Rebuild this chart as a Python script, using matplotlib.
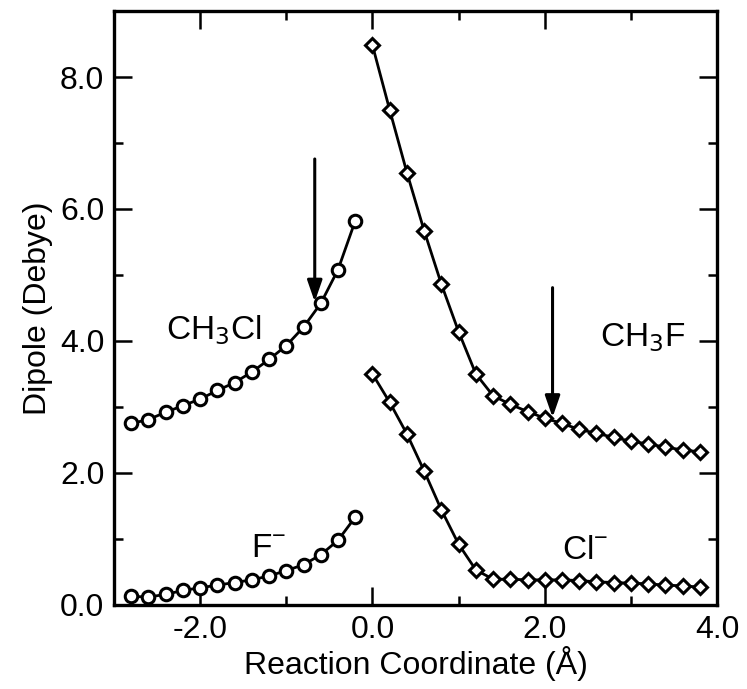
import matplotlib.pyplot as plt
from matplotlib.ticker import MultipleLocator, FormatStrFormatter

plt.rcParams['font.family'] = ['Liberation Sans', 'DejaVu Sans']

# reaction coordinate grids (Angstrom)
x_left = [-2.8, -2.6, -2.4, -2.2, -2.0, -1.8, -1.6, -1.4, -1.2, -1.0, -0.8, -0.6, -0.4, -0.2]
x_right = [0.0, 0.2, 0.4, 0.6, 0.8, 1.0, 1.2, 1.4, 1.6, 1.8, 2.0, 2.2, 2.4, 2.6, 2.8, 3.0, 3.2, 3.4, 3.6, 3.8]

# dipole moments (Debye)
ch3cl = [2.75, 2.81, 2.92, 3.02, 3.12, 3.25, 3.37, 3.53, 3.72, 3.93, 4.21, 4.57, 5.08, 5.82]
f_ion = [0.13, 0.12, 0.16, 0.22, 0.26, 0.30, 0.34, 0.38, 0.44, 0.52, 0.61, 0.76, 0.98, 1.33]
ch3f = [8.48, 7.50, 6.55, 5.67, 4.86, 4.14, 3.50, 3.17, 3.04, 2.93, 2.83, 2.75, 2.66, 2.60,
        2.54, 2.48, 2.44, 2.39, 2.35, 2.32]
cl_ion = [3.50, 3.07, 2.59, 2.03, 1.44, 0.92, 0.53, 0.39, 0.39, 0.38, 0.38, 0.38, 0.37, 0.35,
          0.34, 0.33, 0.32, 0.30, 0.29, 0.27]

fig = plt.figure(figsize=(7.47, 6.89), dpi=100)
ax = fig.add_axes([0.1526, 0.122, 0.8074, 0.862])

circ = dict(color='black', lw=2.0, marker='o', ms=9, mfc='white', mec='black', mew=2.2)
diam = dict(color='black', lw=2.0, marker='D', ms=7.5, mfc='white', mec='black', mew=2.2)
ax.plot(x_left, ch3cl, **circ)
ax.plot(x_left, f_ion, **circ)
ax.plot(x_right, ch3f, **diam)
ax.plot(x_right, cl_ion, **diam)

# arrows marking the transition points
arrow = dict(arrowstyle='-|>,head_length=1.3,head_width=0.45', color='black', lw=2.2)
ax.annotate('', xy=(-0.67, 4.55), xytext=(-0.67, 6.8), arrowprops=arrow)
ax.annotate('', xy=(2.09, 2.80), xytext=(2.09, 4.85), arrowprops=arrow)

fs = 24
ax.text(-2.40, 4.17, r'CH$_3$Cl', fontsize=fs, va='center', ha='left')
ax.text(2.64, 4.05, r'CH$_3$F', fontsize=fs, va='center', ha='left')
ax.text(-1.41, 0.86, r'F$^{\mathregular{-}}$', fontsize=fs, va='center', ha='left')
ax.text(2.20, 0.83, r'Cl$^{\mathregular{-}}$', fontsize=fs, va='center', ha='left')

ax.set_xlim(-3.0, 4.0)
ax.set_ylim(0.0, 9.0)
ax.xaxis.set_major_locator(MultipleLocator(2.0))
ax.xaxis.set_minor_locator(MultipleLocator(1.0))
ax.yaxis.set_major_locator(MultipleLocator(2.0))
ax.yaxis.set_minor_locator(MultipleLocator(1.0))
ax.xaxis.set_major_formatter(FormatStrFormatter('%.1f'))
ax.yaxis.set_major_formatter(FormatStrFormatter('%.1f'))
ax.tick_params(which='both', direction='in', top=True, right=True, width=1.8, labelsize=23, pad=7)
ax.tick_params(which='major', length=13)
ax.tick_params(which='minor', length=6.5)
for s in ax.spines.values():
    s.set_linewidth(2.4)

ax.set_xlabel('Reaction Coordinate (Å)', fontsize=23, labelpad=1)
ax.set_ylabel('Dipole (Debye)', fontsize=23, labelpad=5)

fig.savefig('out.png', dpi=100)
